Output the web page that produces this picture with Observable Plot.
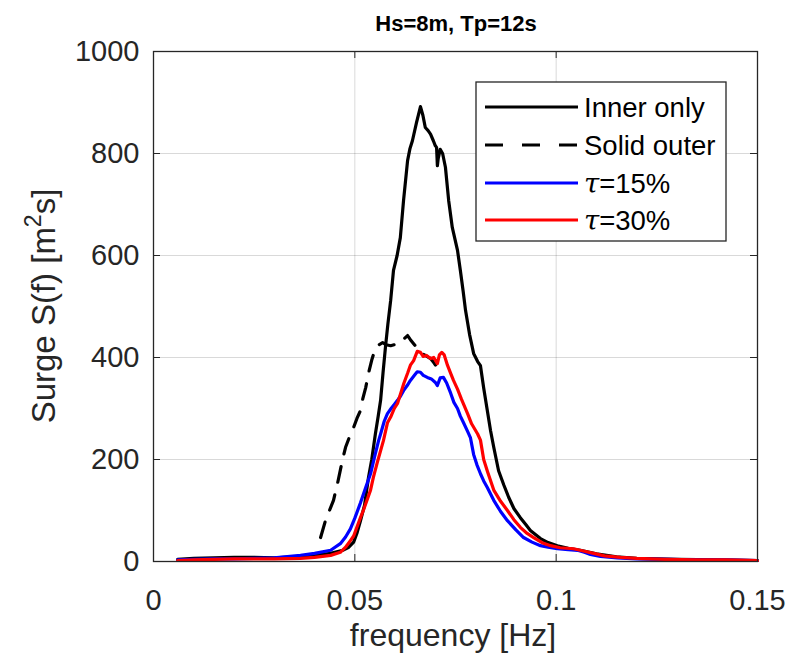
<!DOCTYPE html>
<html><head><meta charset="utf-8">
<script src="https://cdn.jsdelivr.net/npm/d3@7"></script>
<script src="https://cdn.jsdelivr.net/npm/@observablehq/plot@0.6"></script>
<style>
body{margin:0;background:#fff;}
#wrap{position:relative;width:795px;height:660px;}
</style></head><body><div id="wrap"></div>
<script>
// ---- data ----
const innerF = [0.006,0.010,0.015,0.020,0.025,0.030,0.035,0.040,0.044,0.047,0.0485,0.0497,0.0505,0.0514,0.0524,0.0534,0.0542,0.0551,0.0558,0.0564,0.0570,0.0576,0.0582,0.0589,0.0596,0.0605,0.0613,0.0621,0.0631,0.0637,0.0643,0.0653,0.0663,0.0669,0.0675,0.0682,0.0688,0.0695,0.0700,0.0703,0.0705,0.0707,0.0712,0.0718,0.0725,0.0733,0.0742,0.0755,0.0762,0.0769,0.0775,0.0785,0.0795,0.0805,0.0812,0.0820,0.0829,0.0837,0.0845,0.0857,0.0870,0.0882,0.0895,0.0911,0.0925,0.0936,0.0950,0.0961,0.0980,0.1003,0.103,0.106,0.110,0.115,0.120,0.130,0.140,0.150];
const innerS = [4,6,7,8,8,7,9,12,16,22,28,38,55,80,110,165,200,250,285,316,370,420,465,512,571,600,635,708,786,810,825,860,892,875,851,845,838,825,815,812,776,790,808,800,773,708,655,610,571,530,492,445,408,392,384,340,296,257,224,178,150,126,104,86,72,61,52,45,37,31,26,22,15,9,6,4,3,2];

const outerF = [0.0415,0.0427,0.0437,0.0447,0.0457,0.0469,0.0477,0.0487,0.0497,0.0505,0.0514,0.0520,0.0527,0.0534,0.0542,0.0551,0.0560,0.0569,0.0578,0.0589,0.0598,0.0609,0.0620,0.0631,0.0638,0.0646,0.0655,0.0663,0.0675,0.0688,0.0696,0.0705];
const outerS = [47,80,100,120,153,198,224,245,263,280,296,320,341,369,395,418,425,429,425,423,425,427,435,443,435,427,418,410,404,398,390,380];

const tau15F = [0.006,0.010,0.015,0.020,0.025,0.030,0.0365,0.040,0.044,0.0464,0.0477,0.0489,0.0500,0.0514,0.0527,0.0539,0.0549,0.0559,0.0564,0.0573,0.0581,0.0590,0.0598,0.0606,0.0614,0.0621,0.0630,0.0638,0.0648,0.0655,0.0663,0.0670,0.0680,0.0690,0.0700,0.0705,0.0712,0.0720,0.0728,0.0738,0.0746,0.0755,0.0762,0.0770,0.0780,0.0787,0.0795,0.0803,0.0812,0.0820,0.0829,0.0845,0.0862,0.0879,0.0900,0.0919,0.0940,0.0961,0.0980,0.1003,0.1030,0.1053,0.1070,0.1085,0.1110,0.1152,0.120,0.1276,0.135,0.142,0.150];
const tau15S = [3,4,5,5,6,7,12,16,22,35,48,64,85,115,145,172,205,237,250,275,290,300,308,316,325,335,345,355,365,372,371,365,361,358,351,345,360,361,350,330,312,300,285,272,255,243,210,190,172,158,145,120,98,80,62,47,38,31,28,25,23,22,18,14,10,7,5,4,3,3,2];

const tau30F = [0.006,0.010,0.015,0.020,0.025,0.030,0.0365,0.040,0.044,0.0464,0.0477,0.0489,0.0497,0.0514,0.0522,0.0539,0.0546,0.0556,0.0571,0.0581,0.0590,0.0598,0.0606,0.0614,0.0622,0.0631,0.0638,0.0646,0.0655,0.0663,0.0670,0.0678,0.0688,0.0696,0.0705,0.0710,0.0716,0.0722,0.0730,0.0738,0.0745,0.0755,0.0765,0.0780,0.0790,0.0805,0.0812,0.0820,0.0830,0.0845,0.0862,0.0879,0.0895,0.0911,0.0928,0.0944,0.0965,0.0986,0.1010,0.1043,0.1065,0.1093,0.112,0.116,0.120,0.127,0.135,0.142,0.150];
const tau30S = [2,3,4,5,5,5,6,8,12,18,28,41,50,86,102,140,165,195,237,272,285,300,310,330,350,369,385,394,412,410,402,404,398,400,388,405,410,405,385,369,355,338,318,290,270,250,238,200,175,140,118,100,82,67,55,47,37,31,27,25,21,16,11,8,6,4,3,3,2];

const seriesNames = ["Inner only","Solid outer","τ=15%","τ=30%"];
const xTicks = [0,0.05,0.1,0.15];
const xTickLabels = ["0","0.05","0.1","0.15"];
const yTicks = [0,200,400,600,800,1000];
const yTickLabels = ["0","200","400","600","800","1000"];
const titleText = "Hs=8m, Tp=12s";
const xLabelText = "frequency [Hz]";

// ---- build ----
const rows = (F,S) => F.map((f,i)=>({f, s:S[i]}));
const W=795, H=660, mL=153, mR=38, mT=51, mB=99;
const ph = H-mT-mB, pw = W-mL-mR;
const FONT = "'Liberation Sans', Arial, Helvetica, sans-serif";
const ink = "#262626";
const tk = 7;

const chart = Plot.plot({
  width: W, height: H,
  marginLeft: mL, marginRight: mR, marginTop: mT, marginBottom: mB,
  style: {fontFamily: FONT, fontSize: "29px", color: ink, background: "#fff", overflow: "visible"},
  x: {domain: [0, 0.15]},
  y: {domain: [0, 1000]},
  marks: [
    Plot.gridX(xTicks, {stroke: "#000", strokeOpacity: 0.15, strokeWidth: 1}),
    Plot.gridY(yTicks, {stroke: "#000", strokeOpacity: 0.15, strokeWidth: 1}),
    Plot.line(rows(innerF, innerS), {x: "f", y: "s", stroke: "#000", strokeWidth: 3.2}),
    Plot.line(rows(outerF, outerS), {x: "f", y: "s", stroke: "#000", strokeWidth: 3.2, strokeDasharray: "16,13"}),
    Plot.line(rows(tau15F, tau15S), {x: "f", y: "s", stroke: "#0000ff", strokeWidth: 3.2}),
    Plot.line(rows(tau30F, tau30S), {x: "f", y: "s", stroke: "#ff0000", strokeWidth: 3.2}),
    Plot.tickX(xTicks, {x: d=>d, stroke: ink, insetTop: ph - tk}),
    Plot.tickX(xTicks, {x: d=>d, stroke: ink, insetBottom: ph - tk}),
    Plot.tickY(yTicks, {y: d=>d, stroke: ink, insetRight: pw - tk}),
    Plot.tickY(yTicks, {y: d=>d, stroke: ink, insetLeft: pw - tk}),
    Plot.frame({stroke: ink, strokeWidth: 1.3}),
    Plot.axisX(xTicks, {tickSize: 0, tickPadding: 28, tickFormat: (d,i)=>xTickLabels[i], label: null, fill: ink}),
    Plot.axisY(yTicks, {tickSize: 0, tickPadding: 14, tickFormat: (d,i)=>yTickLabels[i], label: null, fill: ink})
  ]
});
document.getElementById("wrap").appendChild(chart);

const svg = d3.select(chart);
// title
svg.append("text").attr("x", 456).attr("y", 31).attr("text-anchor","middle")
  .attr("font-family", FONT).attr("font-weight","bold").attr("font-size", 22).attr("fill", "#000").text(titleText);
// x label
svg.append("text").attr("x", 453).attr("y", 646).attr("text-anchor","middle")
  .attr("font-family", FONT).attr("font-size", 32).attr("fill", ink).text(xLabelText);
// y label
const yl = svg.append("text").attr("transform","translate(55,306) rotate(-90)").attr("text-anchor","middle")
  .attr("font-family", FONT).attr("font-size", 33).attr("fill", ink);
yl.append("tspan").text("Surge S(f) [m");
yl.append("tspan").attr("font-size", 23).attr("dy", -14).text("2");
yl.append("tspan").attr("dy", 14).text("s]");

// legend
const lg = svg.append("g").attr("font-family", FONT).attr("font-size", 27.5).attr("fill", "#000").attr("text-anchor","start");
lg.append("rect").attr("x", 476).attr("y", 82).attr("width", 250).attr("height", 159)
  .attr("fill","#fff").attr("stroke", ink).attr("stroke-width", 1.3);
const legStyles = [
  {stroke:"#000", dash:null},
  {stroke:"#000", dash:"18,19"},
  {stroke:"#0000ff", dash:null},
  {stroke:"#ff0000", dash:null}
];
const rowY = [107, 145, 183, 220];
seriesNames.forEach((name, i) => {
  const y = rowY[i];
  const ln = lg.append("line").attr("x1", 485).attr("x2", 578).attr("y1", y).attr("y2", y)
    .attr("stroke", legStyles[i].stroke).attr("stroke-width", 3.2);
  if (legStyles[i].dash) ln.attr("stroke-dasharray", legStyles[i].dash);
  const t = lg.append("text").attr("x", 584).attr("y", y).attr("dy", "0.35em").attr("text-anchor","start");
  if (name.startsWith("τ")) {
    t.append("tspan").attr("font-style","italic").attr("font-family","'DejaVu Serif', serif").text("τ");
    t.append("tspan").text(name.slice(1));
  } else t.text(name);
});
</script></body></html>
